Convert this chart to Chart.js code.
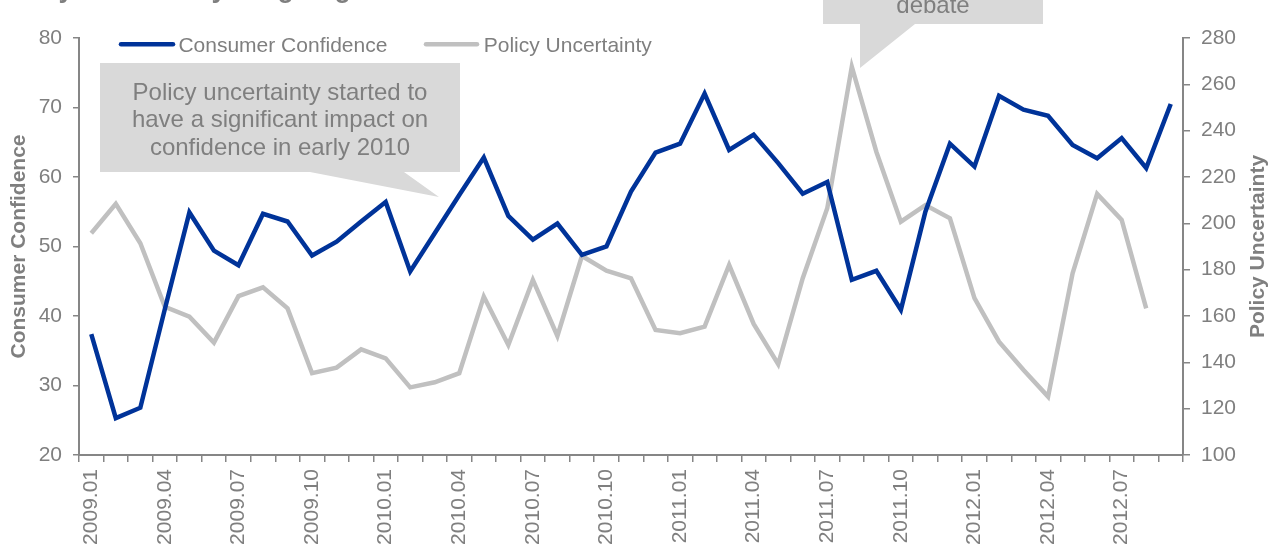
<!DOCTYPE html>
<html>
<head>
<meta charset="utf-8">
<script src="https://cdn.jsdelivr.net/npm/chart.js@4.4.0/dist/chart.umd.min.js"></script>
<style>
  html, body { margin: 0; padding: 0; background: #fff; }
  canvas { display: block; }
</style>
</head>
<body>
<canvas id="chart" width="1274" height="546"></canvas>
<script>
// monthly observations, 2009.01 - 2012.09
var months = ['2009.01','2009.02','2009.03','2009.04','2009.05','2009.06','2009.07','2009.08','2009.09',
              '2009.10','2009.11','2009.12','2010.01','2010.02','2010.03','2010.04','2010.05','2010.06',
              '2010.07','2010.08','2010.09','2010.10','2010.11','2010.12','2011.01','2011.02','2011.03',
              '2011.04','2011.05','2011.06','2011.07','2011.08','2011.09','2011.10','2011.11','2011.12',
              '2012.01','2012.02','2012.03','2012.04','2012.05','2012.06','2012.07','2012.08','2012.09'];

// left axis
var confidence = [37.4, 25.3, 26.8, 41.0, 54.9, 49.4, 47.3, 54.7, 53.6,
                  48.7, 50.7, 53.6, 56.4, 46.4, 51.9, 57.4, 62.8, 54.4,
                  51.0, 53.3, 48.8, 50.0, 57.9, 63.5, 64.8, 72.0, 63.9,
                  66.1, 62.0, 57.6, 59.3, 45.2, 46.5, 40.9, 55.0, 64.8,
                  61.5, 71.7, 69.7, 68.8, 64.6, 62.7, 65.6, 61.3, 70.5];

// right axis (no reading yet for the last month)
var uncertainty = [195.7, 208.4, 191.4, 164.0, 159.7, 148.5, 168.6, 172.4, 163.3,
                   135.3, 137.7, 145.6, 141.7, 129.2, 131.4, 135.3, 168.4, 147.5,
                   175.6, 151.4, 185.9, 179.6, 176.3, 154.0, 152.6, 155.4, 182.0,
                   156.6, 139.2, 176.3, 206.5, 267.6, 230.9, 200.7, 207.9, 202.2,
                   167.7, 148.9, 136.7, 125.2, 178.4, 212.7, 201.5, 163.3, null];

var seriesNames = ['Consumer Confidence', 'Policy Uncertainty'];
var calloutLeft = ['Policy uncertainty started to', 'have a significant impact on', 'confidence in early 2010'];
var calloutTop = ['debate'];
var chartTitle = 'Policy uncertainty weighing on confidence';

var BLUE = '#003399';
var GREY = '#c0c0c0';
var AXIS = '#868686';
var TEXT = '#7f7f7f';
var BOX = '#d9d9d9';
var FONT = "'Liberation Sans', Arial, sans-serif";
var LINE_W = 4.5;

Chart.defaults.font.family = FONT;

// callouts, legend, right axis title, cut-off heading
var annotations = {
  id: 'annotations',
  afterDatasetsDraw: function(chart) {
    var c = chart.ctx;
    c.save();

    // heading, almost entirely above the picture
    c.fillStyle = TEXT;
    c.font = 'bold 27px ' + FONT;
    c.textAlign = 'left';
    c.textBaseline = 'alphabetic';
    c.fillText(chartTitle, -6, -3);

    // callout 1
    c.fillStyle = BOX;
    c.beginPath();
    c.moveTo(100, 63); c.lineTo(460, 63); c.lineTo(460, 172); c.lineTo(404, 172);
    c.lineTo(439, 197); c.lineTo(310, 172); c.lineTo(100, 172);
    c.closePath(); c.fill();
    c.fillStyle = TEXT;
    c.font = '24px ' + FONT;
    c.textAlign = 'center';
    c.fillText(calloutLeft[0], 280, 99.5);
    c.fillText(calloutLeft[1], 280, 127);
    c.fillText(calloutLeft[2], 280, 154.5);

    // callout 2 (box runs off the top)
    c.fillStyle = BOX;
    c.beginPath();
    c.moveTo(823, -40); c.lineTo(1043, -40); c.lineTo(1043, 24); c.lineTo(915, 24);
    c.lineTo(860, 68); c.lineTo(860, 24); c.lineTo(823, 24);
    c.closePath(); c.fill();
    c.fillStyle = TEXT;
    c.fillText(calloutTop[0], 933, 13.3);

    // legend
    c.lineCap = 'round';
    c.lineWidth = LINE_W;
    c.strokeStyle = BLUE;
    c.beginPath(); c.moveTo(121, 44.3); c.lineTo(173, 44.3); c.stroke();
    c.strokeStyle = GREY;
    c.beginPath(); c.moveTo(426, 44.3); c.lineTo(477, 44.3); c.stroke();
    c.fillStyle = TEXT;
    c.font = '21px ' + FONT;
    c.textAlign = 'left';
    c.fillText(seriesNames[0], 178.4, 52.3);
    c.fillText(seriesNames[1], 483.7, 52.3);

    // right axis title reads bottom-to-top like the left one
    var a = chart.chartArea;
    c.translate(1258.5, (a.top + a.bottom) / 2);
    c.rotate(-Math.PI / 2);
    c.font = 'bold 21px ' + FONT;
    c.textAlign = 'center';
    c.textBaseline = 'middle';
    c.fillText(seriesNames[1], 0, 0);

    c.restore();
  }
};

var ctx = document.getElementById('chart').getContext('2d');
var chart = new Chart(ctx, {
  type: 'line',
  data: {
    labels: months,
    datasets: [{
      label: seriesNames[0],
      data: confidence,
      yAxisID: 'y',
      borderColor: BLUE,
      backgroundColor: BLUE,
      borderWidth: LINE_W,
      pointRadius: 0,
      tension: 0
    }, {
      label: seriesNames[1],
      data: uncertainty,
      yAxisID: 'y1',
      borderColor: GREY,
      backgroundColor: GREY,
      borderWidth: LINE_W,
      pointRadius: 0,
      tension: 0
    }]
  },
  options: {
    responsive: false,
    animation: false,
    devicePixelRatio: 1,
    layout: { padding: { top: 38, left: 0, right: 0, bottom: 0 } },
    plugins: {
      legend: { display: false },
      tooltip: { enabled: false }
    },
    scales: {
      x: {
        offset: true,
        grid: { offset: true, drawOnChartArea: false, tickLength: 7, color: AXIS, lineWidth: 1.5 },
        border: { color: AXIS, width: 2 },
        ticks: {
          autoSkip: false,
          minRotation: 90,
          maxRotation: 90,
          padding: 7,
          color: TEXT,
          font: { size: 21 },
          callback: function(v, i) { return i % 3 === 0 ? this.getLabelForValue(v) : ''; }
        },
        afterFit: function(s) { s.height = 91; }
      },
      y: {
        position: 'left',
        min: 20,
        max: 80,
        grid: { drawOnChartArea: false, tickLength: 6, color: AXIS, lineWidth: 1.5 },
        border: { color: AXIS, width: 2 },
        ticks: { stepSize: 10, padding: 11, color: TEXT, font: { size: 21 } },
        title: {
          display: true,
          text: seriesNames[0],
          color: TEXT,
          font: { size: 21, weight: 'bold' },
          padding: { top: 7, bottom: 0 }
        },
        afterFit: function(s) { s.width = 79; }
      },
      y1: {
        position: 'right',
        min: 100,
        max: 280,
        grid: { drawOnChartArea: false, tickLength: 7, color: AXIS, lineWidth: 1.5 },
        border: { color: AXIS, width: 2 },
        ticks: { stepSize: 20, padding: 11, color: TEXT, font: { size: 21 } },
        afterFit: function(s) { s.width = 91; }
      }
    }
  },
  plugins: [annotations]
});
</script>
</body>
</html>
